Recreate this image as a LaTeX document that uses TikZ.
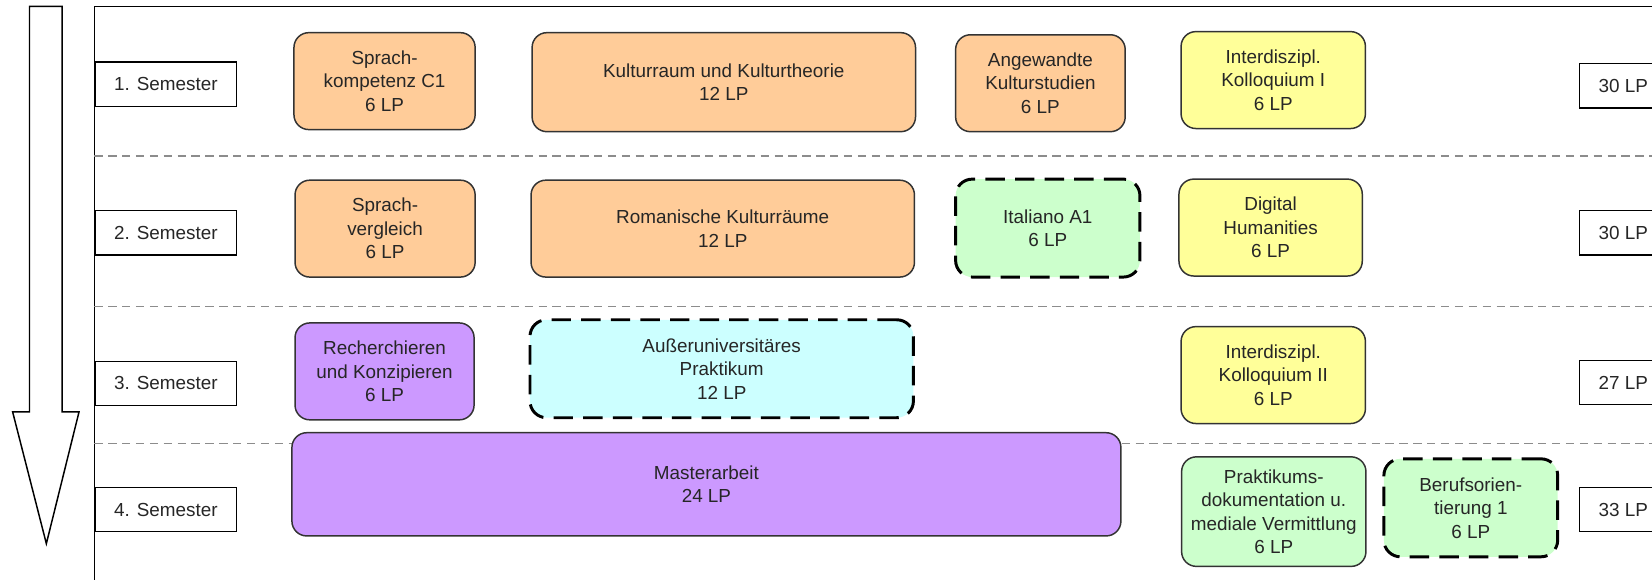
\documentclass[tikz,border=0pt]{standalone}
\usepackage{fontspec}
\setmainfont{Liberation Sans}
\usepackage{tikz}
\usetikzlibrary{positioning}
\definecolor{modorange}{HTML}{FFCC99}
\definecolor{modgelb}{HTML}{FFFF99}
\definecolor{modgruen}{HTML}{CCFFCC}
\definecolor{modcyan}{HTML}{CCFFFF}
\definecolor{modlila}{HTML}{CC99FF}

\begin{document}
\begin{tikzpicture}[x=0.02cm, y=-0.02cm, font=\fontsize{10.2}{12.7}\selectfont]
\tikzset{modul/.style={draw=black!80, line width=0.8pt, rounded corners=8pt, align=center, text=black!85, inner sep=2pt}}
\tikzset{wahl/.style={modul, draw=black, line width=1.6pt, dash pattern=on 10.5pt off 5.5pt, rounded corners=9pt}}
\tikzset{sem/.style={draw, line width=0.8pt, anchor=west, minimum width=2.69cm, minimum height=0.84cm, inner sep=0pt, text=black!85}}
\tikzset{lp/.style={draw, line width=0.8pt, anchor=west, minimum width=1.66cm, minimum height=0.84cm, inner sep=0pt, text=black!85}}
\tikzset{trenn/.style={draw=black!45, line width=0.7pt, dash pattern=on 4.5pt off 3pt}}

\useasboundingbox (0,0) rectangle (1568,550);
\clip (0,0) rectangle (1568,550);

% Zeitpfeil
\draw[line width=0.8pt, fill=white] (28,6) -- (59,6) -- (59,391) -- (75,391) -- (44,516) -- (12,391) -- (28,391) -- cycle;

% Rahmen und Trennlinien
\draw[line width=0.8pt] (89.5,560) -- (89.5,6) -- (1600,6);
\foreach \y in {148,291,421}
  \draw[trenn] (89.5,\y) -- (1600,\y);

% Semester
\node[sem] (sem1) at (89.5,80) {1. Semester};
\node[sem] (sem2) at (89.5,221) {2. Semester};
\node[sem] (sem3) at (89.5,364) {3. Semester};
\node[sem] (sem4) at (89.5,483.6) {4. Semester};

% Leistungspunkte
\node[lp] (lp1) at (1498.5,81.5) {30 LP};
\node[lp] (lp2) at (1498.5,221) {30 LP};
\node[lp] (lp3) at (1498.5,363) {27 LP};
\node[lp] (lp4) at (1498.5,483.7) {33 LP};

% 1. Semester
\node[modul, fill=modorange, minimum width=3.44cm, minimum height=1.84cm] (sprachkomp) at (365,77) {Sprach-\\kompetenz C1\\6 LP};
\node[modul, fill=modorange, minimum width=7.28cm, minimum height=1.88cm] (kulturraum) at (687,78) {Kulturraum und Kulturtheorie\\12 LP};
\node[modul, fill=modorange, minimum width=3.22cm, minimum height=1.84cm] (angewandt) at (987.5,79) {Angewandte\\Kulturstudien\\6 LP};
\node[modul, fill=modgelb, minimum width=3.5cm, minimum height=1.84cm] (kolloq1) at (1208.5,76) {Interdiszipl.\\Kolloquium I\\6 LP};

% 2. Semester
\node[modul, fill=modorange, minimum width=3.42cm, minimum height=1.84cm] (sprachvgl) at (365.5,217) {Sprach-\\vergleich\\6 LP};
\node[modul, fill=modorange, minimum width=7.28cm, minimum height=1.84cm] (romanisch) at (686,217) {Romanische Kulturräume\\12 LP};
\node[wahl, fill=modgruen, minimum width=3.5cm, minimum height=1.86cm] (italiano) at (994.5,216.5) {Italiano A1\\6 LP};
\node[modul, fill=modgelb, minimum width=3.48cm, minimum height=1.84cm] (digital) at (1206,216) {Digital\\Humanities\\6 LP};

% 3. Semester
\node[modul, fill=modlila, minimum width=3.4cm, minimum height=1.84cm] (recherche) at (365,352.5) {Recherchieren\\und Konzipieren\\6 LP};
\node[wahl, fill=modcyan, minimum width=7.28cm, minimum height=1.86cm] (praktikum) at (685,350) {Außeruniversitäres\\Praktikum\\12 LP};
\node[modul, fill=modgelb, minimum width=3.5cm, minimum height=1.84cm] (kolloq2) at (1208.5,356) {Interdiszipl.\\Kolloquium II\\6 LP};

% 4. Semester
\node[modul, fill=modlila, minimum width=15.74cm, minimum height=1.96cm] (master) at (670.5,459.7) {Masterarbeit\\24 LP};
\node[modul, fill=modgruen, minimum width=3.5cm, minimum height=2.08cm] (doku) at (1209,485.6) {Praktikums-\\dokumentation u.\\mediale Vermittlung\\6 LP};
\node[wahl, fill=modgruen, minimum width=3.3cm, minimum height=1.86cm] (beruf) at (1396,482) {Berufsorien-\\tierung 1\\6 LP};
\end{tikzpicture}
\end{document}
